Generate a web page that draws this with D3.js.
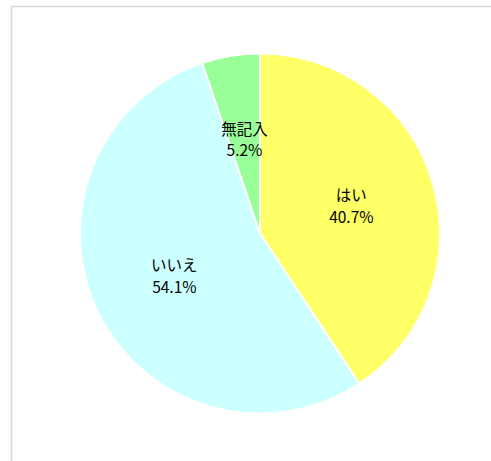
<!DOCTYPE html>
<html>
<head>
<meta charset="utf-8">
<script src="https://cdn.jsdelivr.net/npm/d3@7"></script>
<style>
  body { margin: 0; background: #fff; }
  svg text { font-family: "Noto Sans CJK JP", "Noto Sans", sans-serif; }
</style>
</head>
<body>
<svg width="491" height="461"></svg>
<script>
      // slice order runs clockwise from 12 o'clock
      const categories = ["はい", "いいえ", "無記入"];
      const values = [40.7, 54.1, 5.2];
      const colors = ["#ffff66", "#ccffff", "#99ff99"];

      var svg = d3.select('svg');
      var width = +svg.attr('width');
      var height = +svg.attr('height');

      // chart area frame (only left and top edges fall inside the window)
      svg.append('rect')
          .attr('x', 11.5)
          .attr('y', 6.5)
          .attr('width', width + 20)
          .attr('height', height + 20)
          .attr('fill', 'none')
          .attr('stroke', '#d9d9d9')
          .attr('stroke-width', 1.5);

      var cx = 260, cy = 233.5, radius = 180;

      var g = svg.append('g')
          .attr('transform', `translate(${cx},${cy})`);

      var data = categories.map((c, i) => ({ name: c, value: values[i], color: colors[i] }));

      var pie = d3.pie()
        .value(d => d.value)
        .sort(null);

      var arc = d3.arc()
        .innerRadius(0)
        .outerRadius(radius);

      var labelArc = d3.arc()
        .innerRadius(radius * 0.53)
        .outerRadius(radius * 0.53);

      var arcs = pie(data);

      g.selectAll('path').data(arcs)
        .enter().append('path')
          .attr('d', arc)
          .attr('fill', d => d.data.color)
          .attr('stroke', '#ffffff')
          .attr('stroke-width', 2)
          .attr('stroke-linejoin', 'round');

      var labels = g.selectAll('text').data(arcs)
        .enter().append('text')
          .attr('transform', d => `translate(${labelArc.centroid(d)})`)
          .attr('text-anchor', 'middle')
          .attr('font-size', 15.5)
          .attr('fill', '#000');

      labels.append('tspan')
          .attr('x', 0)
          .attr('dy', '-0.3em')
          .text(d => d.data.name);
      labels.append('tspan')
          .attr('x', 0)
          .attr('dy', '1.4em')
          .text(d => d3.format('.1f')(d.data.value) + '%');
</script>
</body>
</html>
